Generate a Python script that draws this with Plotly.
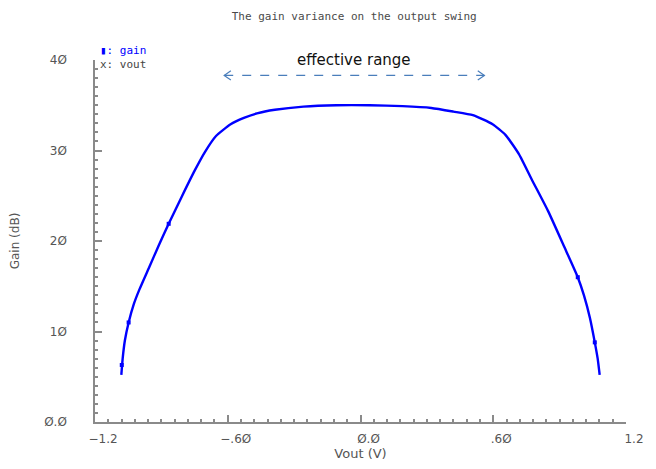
import plotly.graph_objects as go

# ---- data ----
vout = [-1.081, -1.075, -1.065, -1.048, -1.025, -1.000, -0.955, -0.912, -0.867, -0.808,
        -0.749, -0.704, -0.653, -0.587, -0.527, -0.468, -0.387, -0.258, -0.109, 0.041,
        0.190, 0.320, 0.420, 0.508, 0.597, 0.656, 0.716, 0.774, 0.848, 0.922,
        0.982, 1.010, 1.037, 1.059, 1.072, 1.081]
gain = [5.2, 7.0, 9.0, 11.0, 13.0, 14.6, 17.1, 19.5, 21.9, 24.9,
        27.8, 29.8, 31.6, 32.9, 33.6, 34.1, 34.5, 34.85, 35.0, 35.0,
        34.9, 34.7, 34.3, 33.9, 32.9, 31.7, 29.6, 26.8, 23.3, 19.3,
        16.0, 14.0, 11.5, 8.8, 7.0, 5.2]
marker_x = [-1.079, -1.048, -0.867, 0.982, 1.059]
marker_y = [6.3, 11.0, 21.9, 16.0, 8.8]

x_tickvals = [-1.2, -0.6, 0.0, 0.6, 1.2]
x_ticktext = ["\u22121.2", "\u2212.6Ø", "Ø.Ø", ".6Ø", "1.2"]
y_tickvals = [0, 10, 20, 30, 40]
y_ticktext = ["Ø.Ø", "1Ø", "2Ø", "3Ø", "4Ø"]

range_start, range_end, range_level = -0.616, 0.560, 38.3
range_label = "effective range"

title = "The gain variance on the output swing"

AXC = "#8a8a8a"
TXT = "#555555"
BLUE = "#0000ff"
ARR = "#4a7ebb"

fig = go.Figure()
fig.add_trace(go.Scatter(x=vout, y=gain, mode="lines",
                         line=dict(color=BLUE, width=2.4, shape="spline", smoothing=0.5),
                         showlegend=False, hoverinfo="skip"))
fig.add_trace(go.Scatter(x=marker_x, y=marker_y, mode="markers",
                         marker=dict(symbol="square", size=4, color=BLUE),
                         showlegend=False, hoverinfo="skip"))

# dashed double arrow
fig.add_shape(type="line", x0=range_start, x1=range_end, y0=range_level, y1=range_level,
              line=dict(color=ARR, width=1.2, dash="dash"))
dx, dy = 0.03, 0.5
fig.add_shape(type="path",
              path=f"M {range_start+dx},{range_level+dy} L {range_start},{range_level} L {range_start+dx},{range_level-dy}",
              line=dict(color=ARR, width=1.2))
fig.add_shape(type="path",
              path=f"M {range_end-dx},{range_level+dy} L {range_end},{range_level} L {range_end-dx},{range_level-dy}",
              line=dict(color=ARR, width=1.2))
fig.add_annotation(x=(range_start + range_end) / 2, y=range_level, yshift=15,
                   text=range_label, showarrow=False,
                   font=dict(family="DejaVu Sans", size=15, color="#111111"))

# legend-like labels
fig.add_annotation(xref="paper", yref="paper", x=0.006, y=1.05, xanchor="left",
                   text="▮: gain", showarrow=False,
                   font=dict(family="DejaVu Sans Mono", size=11, color=BLUE))
fig.add_annotation(xref="paper", yref="paper", x=0.006, y=1.012, xanchor="left",
                   text="x: vout", showarrow=False,
                   font=dict(family="DejaVu Sans Mono", size=11, color="#444444"))

fig.update_layout(
    width=656, height=469,
    margin=dict(l=95, r=20, t=60, b=37),
    paper_bgcolor="white", plot_bgcolor="white",
    title=dict(text=title, x=0.54, xanchor="center", y=0.965, yanchor="middle",
               font=dict(family="DejaVu Sans Mono", size=11, color="#4a4a4a")),
    font=dict(family="DejaVu Sans", size=12, color=TXT),
)
fig.update_xaxes(range=[-1.2, 1.2], tickvals=x_tickvals, ticktext=x_ticktext,
                 showgrid=False, zeroline=False, showline=True, linecolor=AXC, linewidth=1.5,
                 ticks="inside", ticklen=7, tickcolor=AXC, tickwidth=1.5,
                 minor=dict(dtick=0.06, tick0=0, ticks="inside", ticklen=3, tickcolor=AXC),
                 ticklabelshift=8, ticklabelstandoff=5,
                 tickfont=dict(family="DejaVu Sans", size=12, color=TXT),
                 title=dict(text="Vout (V)", standoff=2, font=dict(family="DejaVu Sans", size=13, color=TXT)))
fig.update_yaxes(range=[0, 40], tickvals=y_tickvals, ticktext=y_ticktext,
                 showgrid=False, zeroline=False, showline=True, linecolor=AXC, linewidth=1.5,
                 ticks="inside", ticklen=7, tickcolor=AXC, tickwidth=1.5,
                 minor=dict(dtick=1, tick0=0, ticks="inside", ticklen=3, tickcolor=AXC),
                 ticklabelstandoff=24,
                 tickfont=dict(family="DejaVu Sans", size=12, color=TXT),
                 title=dict(text="Gain (dB)", standoff=22, font=dict(family="DejaVu Sans", size=12, color=TXT)))

fig.write_html("out.html")
